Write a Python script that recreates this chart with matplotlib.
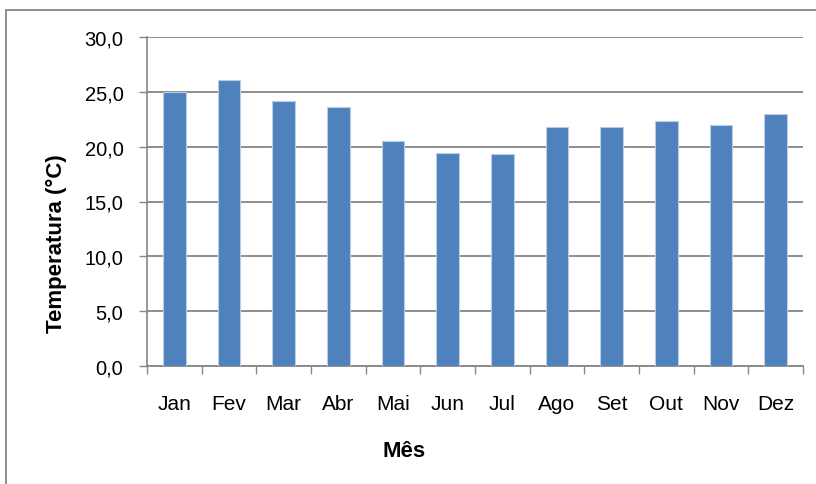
import matplotlib
matplotlib.use("Agg")
import matplotlib.pyplot as plt
from matplotlib.patches import Rectangle
import numpy as np

plt.rcParams['font.family'] = ['Liberation Sans', 'DejaVu Sans']

months = ["Jan", "Fev", "Mar", "Abr", "Mai", "Jun", "Jul", "Ago", "Set", "Out", "Nov", "Dez"]
temps = [25.0, 26.1, 24.2, 23.6, 20.5, 19.4, 19.3, 21.8, 21.8, 22.3, 22.0, 23.0]
yticks = [0, 5, 10, 15, 20, 25, 30]
ytick_labels = ["0,0", "5,0", "10,0", "15,0", "20,0", "25,0", "30,0"]

W, H = 816, 485
fig = plt.figure(figsize=(W / 100, H / 100), dpi=100)

# outer chart border (cropped Excel chart area)
fig.patches.append(Rectangle((6 / W, -0.1), 1.2, (H - 11) / H + 0.1, transform=fig.transFigure,
                             fill=False, edgecolor="#868686", linewidth=1.3))

ax = fig.add_axes([147 / W, 1 - 367 / H, (803 - 147) / W, (367 - 38) / H])
x = np.arange(len(months))
ax.bar(x, temps, width=0.42, color="#4F81BD", edgecolor="#B9CDE5", linewidth=0.8, zorder=3)

ax.set_xlim(-0.5, len(months) - 0.5)
ax.set_ylim(0, 30)
ax.set_yticks(yticks)
ax.set_yticklabels(ytick_labels, fontsize=14.5)
ax.yaxis.grid(True, color="#868686", linewidth=1.3, zorder=0)
ax.set_axisbelow(True)

# x ticks at category boundaries, labels at centers
ax.set_xticks(np.arange(-0.5, len(months), 1.0))
ax.set_xticklabels([])
ax.set_xticks(x, minor=True)
ax.set_xticklabels(months, minor=True, fontsize=15)
ax.tick_params(axis='x', which='major', direction='out', length=6, color="#868686", width=1)
ax.tick_params(axis='x', which='minor', length=0, pad=20)
ax.tick_params(axis='y', direction='out', length=6, color="#868686", width=1, pad=11)

for s in ["top", "right"]:
    ax.spines[s].set_visible(False)
ax.spines["left"].set_color("#868686")
ax.spines["bottom"].set_color("#868686")
ax.spines["left"].set_linewidth(1.2)
ax.spines["bottom"].set_linewidth(1.3)

ax.set_ylabel("Temperatura (°C)", fontsize=16, fontweight="bold", va="center")
ax.set_xlabel("Mês", fontsize=16, fontweight="bold", va="center")
ax.yaxis.set_label_coords((56 - 147) / 656, (367 - 244) / 329)
ax.xaxis.set_label_coords((404 - 147) / 656, (367 - 452) / 329)

fig.savefig("out.png", dpi=100)
